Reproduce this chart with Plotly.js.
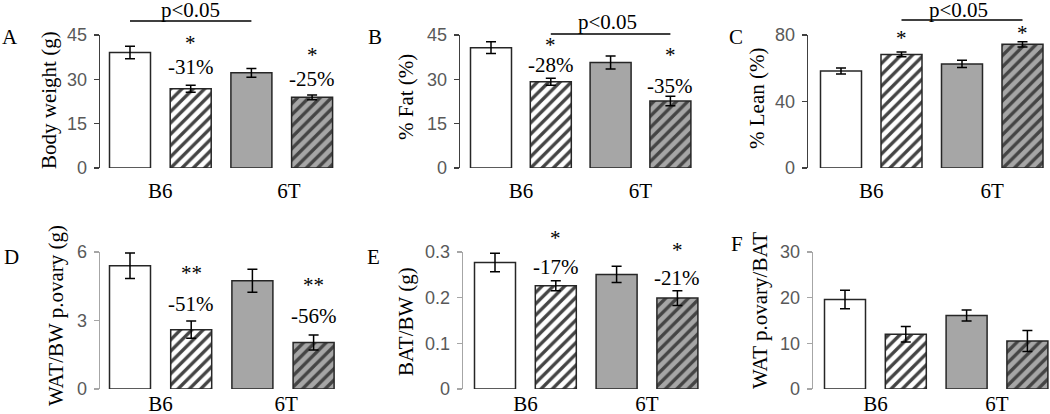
<!DOCTYPE html>
<html>
<head>
<meta charset="utf-8">
<script src="https://cdn.plot.ly/plotly-3.0.1.min.js"></script>
<style>html,body{margin:0;padding:0;background:#fff;}#chart{width:1050px;height:414px;}</style>
</head>
<body>
<div id="chart"></div>
<script>
// ---- data ----
const groups = ['B6 control', 'B6 treated', '6T control', '6T treated'];
const categories = ['B6', '6T'];

const bodyWeight = [39.1, 26.8, 32.2, 23.9];
const bodyWeightErr = [2.1, 1.2, 1.5, 0.8];
const fatPct = [40.7, 29.2, 35.7, 22.7];
const fatPctErr = [2.0, 1.2, 2.2, 1.6];
const leanPct = [58.3, 68.3, 62.6, 74.4];
const leanPctErr = [1.8, 1.4, 2.2, 1.6];
const watBw = [5.4, 2.6, 4.74, 2.04];
const watBwErr = [0.56, 0.38, 0.5, 0.33];
const batBw = [0.277, 0.226, 0.251, 0.199];
const batBwErr = [0.02, 0.011, 0.018, 0.016];
const watBat = [19.6, 12.0, 16.1, 10.5];
const watBatErr = [2.0, 1.7, 1.2, 2.3];

const yTitles = ['Body weight (g)', '% Fat (%)', '% Lean (%)', 'WAT/BW p.ovary (g)', 'BAT/BW (g)', 'WAT p.ovary/BAT'];
const panelLetters = ['A', 'B', 'C', 'D', 'E', 'F'];
const yTicks = [[0, 15, 30, 45], [0, 15, 30, 45], [0, 40, 80], [0, 3, 6], [0, 0.1, 0.2, 0.3], [0, 10, 20, 30]];
const yMax = [45, 45, 80, 6, 0.3, 30];
const changeLabels = [['-31%', '-25%'], ['-28%', '-35%'], ['', ''], ['-51%', '-56%'], ['-17%', '-21%'], ['', '']];
const starLabels = [['*', '*'], ['*', '*'], ['*', '*'], ['**', '**'], ['*', '*'], ['', '']];
const pLabel = 'p<0.05';

const values = [bodyWeight, fatPct, leanPct, watBw, batBw, watBat];
const errors = [bodyWeightErr, fatPctErr, leanPctErr, watBwErr, batBwErr, watBatErr];

// ---- layout geometry (pixels) ----
const W = 1050, H = 414;
const geo = [
  {axis: 100, c0: 130, sp: 60.7, right: 345, top: 35, bottom: 168, axc: '#404040', catPos: [0.5, 2.62], catOff: 4},
  {axis: 460, c0: 491, sp: 59.8, right: 700, top: 35, bottom: 168, axc: '#404040', catPos: [0.5, 2.5], catOff: 4},
  {axis: 808, c0: 841, sp: 60.5, right: 1050, top: 35, bottom: 168, axc: '#404040', catPos: [0.5, 2.5], catOff: 4},
  {axis: 100, c0: 130, sp: 61.2, right: 345, top: 252, bottom: 389, axc: '#a6a6a6', catPos: [0.5, 2.55], catOff: 0},
  {axis: 463, c0: 495, sp: 60.8, right: 705, top: 252, bottom: 389, axc: '#a6a6a6', catPos: [0.5, 2.5], catOff: 0},
  {axis: 813, c0: 845, sp: 60.8, right: 1050, top: 252, bottom: 389, axc: '#a6a6a6', catPos: [0.5, 2.5], catOff: 0}
];
const px = x => x / W;
const py = y => 1 - y / H;

const serif = '"Liberation Serif", "Times New Roman", serif';
const sans = '"Liberation Sans", Arial, sans-serif';

const fillColors = ['#ffffff', '#ffffff', '#a6a6a6', '#a6a6a6'];
const shapesPat = ['', '/', '', '/'];

const traces = [];
const layout = {
  width: W, height: H,
  margin: {l: 0, r: 0, t: 0, b: 0},
  paper_bgcolor: '#fff', plot_bgcolor: 'rgba(0,0,0,0)',
  showlegend: false,
  bargap: 0,
  annotations: [],
  shapes: []
};

for (let i = 0; i < 6; i++) {
  const g = geo[i];
  const sfx = i === 0 ? '' : String(i + 1);
  const xa = 'x' + sfx, ya = 'y' + sfx;
  traces.push({
    type: 'bar',
    x: [0, 1, 2, 3],
    y: values[i],
    name: yTitles[i],
    text: groups,
    hoverinfo: 'text+y',
    textposition: 'none',
    width: 41 / g.sp,
    xaxis: xa, yaxis: ya,
    marker: {
      color: fillColors,
      line: {color: '#262626', width: 1.5},
      pattern: {shape: shapesPat, fillmode: 'overlay', fgcolor: '#000', fgopacity: 1, size: 8, solidity: 0.42}
    },
    error_y: {type: 'data', array: errors[i], visible: true, color: '#000', thickness: 1.5, width: 5}
  });
  const start = -(g.c0 - g.axis) / g.sp;
  const end = start + (g.right - g.axis) / g.sp;
  const xax = {
    domain: [px(g.axis), px(g.right)],
    range: [start, end],
    anchor: ya,
    showline: false, showgrid: false, zeroline: false,
    tickvals: g.catPos, ticktext: categories,
    tickfont: {family: serif, size: 21, color: '#000'},
    fixedrange: true
  };
  if (g.catOff > 0) {
    xax.ticks = 'outside'; xax.ticklen = g.catOff; xax.tickcolor = 'rgba(0,0,0,0)';
  } else {
    xax.ticks = '';
  }
  layout['xaxis' + sfx] = xax;
  layout['yaxis' + sfx] = {
    domain: [py(g.bottom), py(g.top)],
    range: [0, yMax[i]],
    anchor: xa,
    showline: true, linecolor: g.axc, linewidth: 1.3,
    showgrid: false, zeroline: false,
    ticks: 'outside', ticklen: 5, tickcolor: g.axc, tickwidth: 1.3,
    tickvals: yTicks[i],
    tickfont: {family: sans, size: 18, color: '#595959'},
    ticklabelstandoff: 3,
    fixedrange: true
  };
}

// annotation helpers
function addText(text, xref, x, ypx, size, extra) {
  layout.annotations.push(Object.assign({
    text: text, xref: xref, yref: 'paper', x: x, y: py(ypx),
    xanchor: 'center', yanchor: 'middle', showarrow: false,
    font: {family: serif, size: size, color: '#000'}
  }, extra || {}));
}

// panel letters
const letterPos = [[10, 37], [375, 37], [736, 37], [11, 257], [373, 257], [737, 244]];
panelLetters.forEach((t, i) => addText(t, 'paper', px(letterPos[i][0]), letterPos[i][1], 21));

// y-axis titles
const titlePos = [[49, 100], [406, 97], [757, 99], [56, 316], [406, 322], [760, 311]];
yTitles.forEach((t, i) => addText(t, 'paper', px(titlePos[i][0]), titlePos[i][1], 21, {textangle: -90}));

// stars and change labels (box centres, px)
const starY = [[47, 59], [49, 59], [42, 37], [277, 289], [242, 254], [0, 0]];
const changeY = [[67, 79], [65, 86], [0, 0], [304, 316], [267, 278], [0, 0]];
for (let i = 0; i < 6; i++) {
  const sfx = i === 0 ? '' : String(i + 1);
  [1, 3].forEach((bar, k) => {
    if (starLabels[i][k]) addText(starLabels[i][k], 'x' + sfx, bar, starY[i][k] - 4, 21);
    if (changeLabels[i][k]) addText(changeLabels[i][k], 'x' + sfx, bar, changeY[i][k], 21);
  });
}

// p-value brackets
const pBrackets = [
  {panel: 0, from: 0, to: 2, lineY: 21, textX: 1.0, textY: 10},
  {panel: 1, from: 1, to: 3, lineY: 34, textX: 1.95, textY: 22},
  {panel: 2, from: 1, to: 3, lineY: 20, textX: 1.95, textY: 10}
];
pBrackets.forEach(b => {
  const sfx = b.panel === 0 ? '' : String(b.panel + 1);
  layout.shapes.push({
    type: 'line', xref: 'x' + sfx, yref: 'paper',
    x0: b.from, x1: b.to, y0: py(b.lineY), y1: py(b.lineY),
    line: {color: '#000', width: 1.3}
  });
  addText(pLabel, 'x' + sfx, b.textX, b.textY, 21);
});

Plotly.newPlot('chart', traces, layout, {displayModeBar: false, staticPlot: true});
</script>
</body>
</html>
